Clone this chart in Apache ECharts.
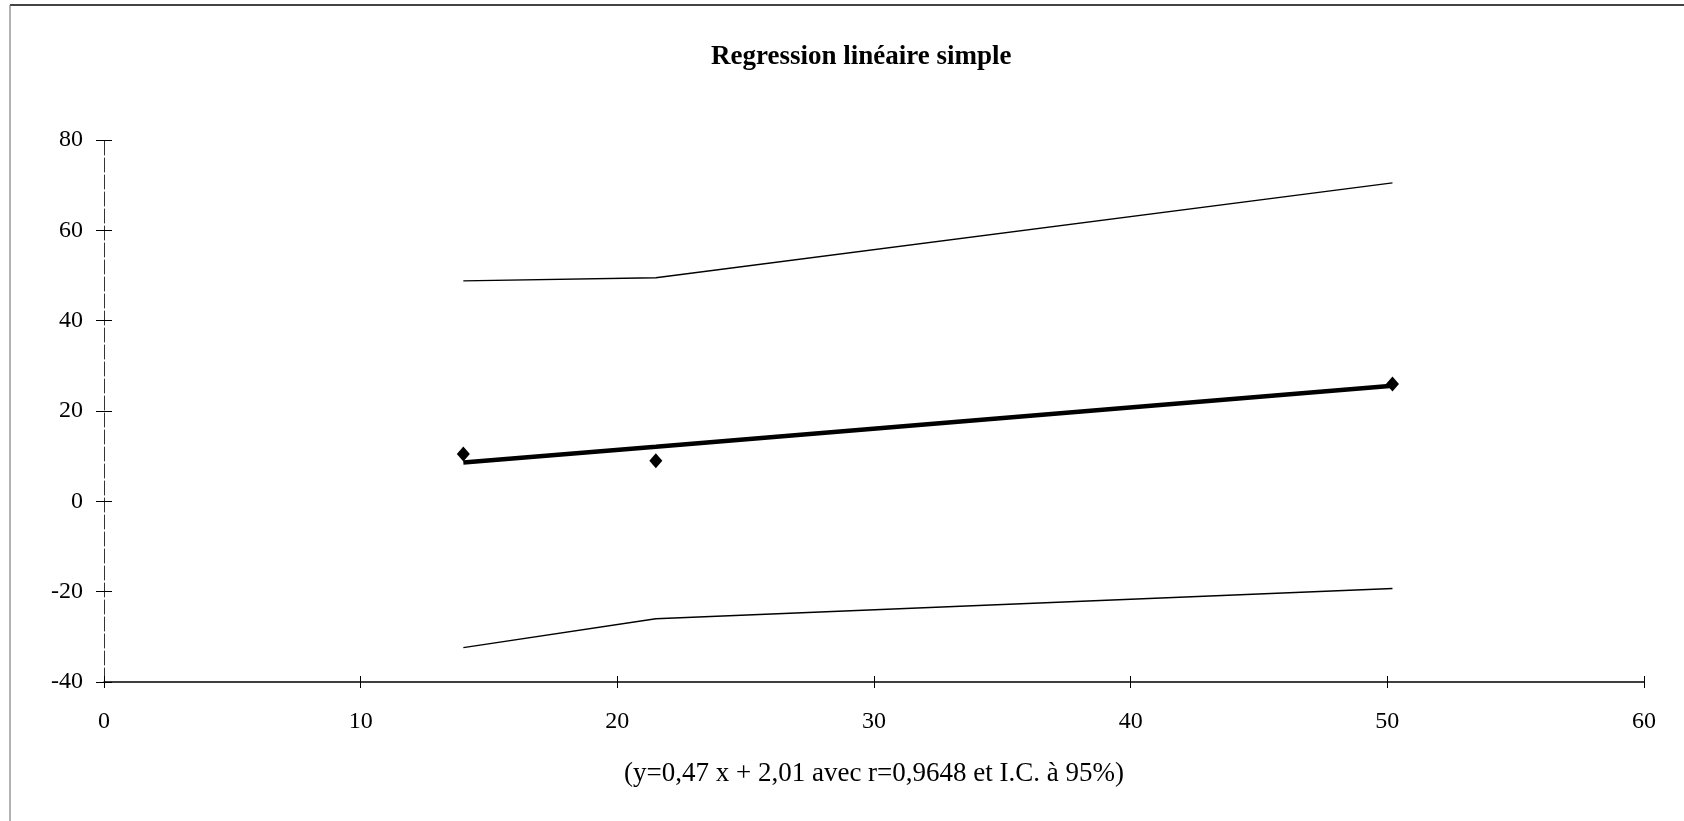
<!DOCTYPE html>
<html lang="fr">
<head>
    <meta charset="UTF-8">
    <title>Regression linéaire simple</title>
    <script type="text/javascript" src="https://cdn.jsdelivr.net/npm/echarts@6/dist/echarts.min.js"></script>
    <style>
        *{
            margin:0;
            padding:0;
        }
        #main {
            width:1684px;
            height:821px;
            background:#fff;
        }
    </style>
</head>
<body>
<div id="main"></div>
<script type="text/javascript">
    // observations (x, y)
    var obsX = [14.0, 21.5, 50.2];
    var obsY = [10.5, 9.0, 26.0];
    // droite de regression y = 0,47 x + 2,01
    var fitY = [8.6, 12.1, 25.6];
    // bornes de l'intervalle de confiance a 95%
    var upperY = [48.8, 49.5, 70.5];
    var lowerY = [-32.4, -26.0, -19.3];

    var xTicks = [0, 10, 20, 30, 40, 50, 60];
    var yTicks = [-40, -20, 0, 20, 40, 60, 80];

    function pairs(xs, ys) {
        return xs.map(function (x, i) { return [x, ys[i]]; });
    }

    var serif = '"Liberation Serif", "DejaVu Serif", serif';
    var chart = echarts.init(document.getElementById('main'));

    var axisX = {
        type: 'value',
        min: xTicks[0],
        max: xTicks[xTicks.length - 1],
        interval: 10,
        splitLine: {show: false}
    };
    var axisY = {
        type: 'value',
        min: yTicks[0],
        max: yTicks[yTicks.length - 1],
        interval: 20,
        splitLine: {show: false}
    };

    var option = {
        backgroundColor: '#fff',
        animation: false,
        title: {
            text: 'Regression linéaire simple',
            left: 706,
            top: 39,
            textStyle: {fontFamily: serif, fontWeight: 'bold', fontSize: 27, color: '#000'}
        },
        grid: {left: 104, right: 40, top: 140, bottom: 139},
        xAxis: [
            Object.assign({}, axisX, {
                name: '(y=0,47 x + 2,01 avec r=0,9648 et I.C. à 95%)',
                nameLocation: 'middle',
                nameGap: 78,
                nameTextStyle: {fontFamily: serif, fontSize: 27, color: '#000'},
                axisLine: {onZero: false, lineStyle: {color: '#000', width: 1.5}},
                axisTick: {length: 6, lineStyle: {color: '#000'}},
                axisLabel: {fontFamily: serif, fontSize: 24, color: '#000', margin: 28}
            }),
            Object.assign({}, axisX, {
                position: 'bottom',
                axisLine: {show: false, onZero: false},
                axisTick: {inside: true, length: 6, lineStyle: {color: '#000'}},
                axisLabel: {show: false}
            })
        ],
        yAxis: [
            Object.assign({}, axisY, {
                axisLine: {show: true, onZero: false, lineStyle: {color: '#333', width: 1, type: [14, 3]}},
                axisTick: {show: true, length: 8, lineStyle: {color: '#000'}},
                axisLabel: {fontFamily: serif, fontSize: 24, color: '#000', margin: 21}
            }),
            Object.assign({}, axisY, {
                position: 'left',
                axisLine: {show: false, onZero: false},
                axisTick: {show: true, inside: true, length: 8, lineStyle: {color: '#000'}},
                axisLabel: {show: false}
            })
        ],
        graphic: [
            {type: 'line', shape: {x1: 10, y1: 5, x2: 1684, y2: 5}, style: {stroke: '#444', lineWidth: 2}},
            {type: 'line', shape: {x1: 10, y1: 5, x2: 10, y2: 821}, style: {stroke: '#666', lineWidth: 1}}
        ],
        series: [
            {
                name: 'borne sup',
                type: 'line',
                data: pairs(obsX, upperY),
                symbol: 'none',
                lineStyle: {color: '#000', width: 1.3}
            },
            {
                name: 'borne inf',
                type: 'line',
                data: pairs(obsX, lowerY),
                symbol: 'none',
                lineStyle: {color: '#000', width: 1.3}
            },
            {
                name: 'regression',
                type: 'line',
                data: pairs(obsX, fitY),
                symbol: 'none',
                lineStyle: {color: '#000', width: 4.5}
            },
            {
                name: 'observations',
                type: 'scatter',
                data: pairs(obsX, obsY),
                symbol: 'diamond',
                symbolSize: [13, 15],
                itemStyle: {color: '#000', opacity: 1}
            }
        ]
    };

    chart.setOption(option);
</script>
</body>
</html>
